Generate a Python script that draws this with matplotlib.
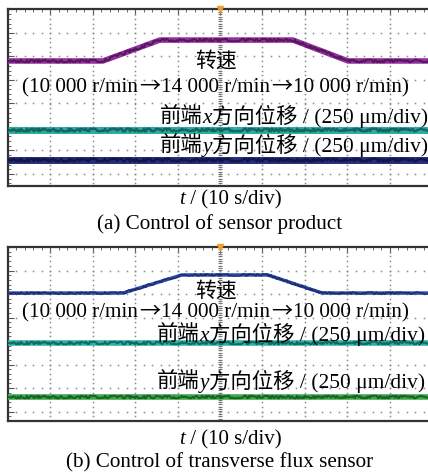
import numpy as np
import matplotlib.pyplot as plt
from matplotlib.ticker import MultipleLocator
from matplotlib.transforms import IdentityTransform

W, H = 428, 473
FONT = ['Liberation Serif', 'Noto Sans CJK SC']
CJK = ['Noto Sans CJK SC']

# traces, in scope divisions (x: 10 s/div, y: divisions from the bottom)
t_speed_a = [0, 2.24, 3.58, 6.72, 8.02, 10.2]
speed_a = [5.81, 5.81, 6.70, 6.70, 5.81, 5.81]
t_speed_b = [0, 2.71, 4.10, 6.13, 7.41, 10.2]
speed_b = [6.04, 6.04, 6.81, 6.81, 6.04, 6.04]

t_flat = [0, 10.2]
x_disp_a = [2.87, 2.87]
y_disp_a = [1.60, 1.60]
x_disp_b = [3.91, 3.91]
y_disp_b = [1.62, 1.62]

speed_label = '转速'
speed_steps = ['(10 000 r/min', '14 000 r/min', '10 000 r/min)']
time_label = ' / (10 s/div)'
captions = ['(a) Control of sensor product', '(b) Control of transverse flux sensor']

fig = plt.figure(figsize=(W / 100, H / 100), dpi=100)


def scope_axes(top_px, bot_px):
    ax = fig.add_axes([8 / W, 1 - bot_px / H, 424 / W, (bot_px - top_px) / H])
    ax.set_xlim(0, 10)
    ax.set_ylim(8 - (bot_px - top_px) / 23.5, 8)
    y0 = ax.get_ylim()[0]
    # dotted graticule
    for gx in range(1, 10):
        ys = np.arange(8, y0, -0.2)
        ax.plot(np.full_like(ys, gx), ys, ls='none', marker='s', ms=1.1,
                color='#8a8a8a', mew=0)
    for gy in range(1, 8):
        xs = np.arange(0, 10.01, 0.2)
        ax.plot(xs, np.full_like(xs, gy), ls='none', marker='s', ms=1.1,
                color='#8a8a8a', mew=0)
    ys = np.arange(8, y0, -0.1)
    ax.plot(np.full_like(ys, 5), ys, ls='none', marker='_', ms=3,
            color='#777777', mew=0.8)
    ax.plot([5], [8], marker='v', ms=4, color='#f0a030', clip_on=False, zorder=5)
    ax.xaxis.set_major_locator(MultipleLocator(1))
    ax.xaxis.set_minor_locator(MultipleLocator(0.2))
    ax.yaxis.set_major_locator(MultipleLocator(1))
    ax.yaxis.set_minor_locator(MultipleLocator(0.2))
    ax.tick_params(which='both', direction='in', top=True, bottom=False,
                   left=True, right=False, labelbottom=False, labelleft=False,
                   color='#555555')
    ax.tick_params(which='major', length=4, width=0.8)
    ax.tick_params(which='minor', length=2.5, width=0.6)
    for s in ax.spines.values():
        s.set_color('#333333')
        s.set_linewidth(1.6)
    ax.spines['right'].set_visible(False)
    return ax


def trace(ax, x, y, color, dark, lw):
    ax.plot(x, y, color=color, lw=lw, solid_capstyle='butt', zorder=3)
    ln, = ax.plot(x, y, color=dark, lw=lw * 0.35, alpha=0.7, zorder=4)
    ln.set_sketch_params(scale=1.3, length=3, randomness=30)


def put(parts, x, base_y, size=15, ha='center', gap=0):
    r = fig.canvas.get_renderer()
    objs = []
    widths = []
    for part in parts:
        s, st = part[0], part[1]
        fam = part[2] if len(part) > 2 else FONT
        o = fig.text(0, 0, s, fontsize=size, style=st, family=fam,
                     transform=IdentityTransform(), va='baseline', ha='left')
        objs.append(o)
        widths.append(o.get_window_extent(r).width + gap)
    x0 = x - sum(widths) / 2 if ha == 'center' else x
    for o, w in zip(objs, widths):
        o.set_position((x0, H - base_y))
        x0 += w


ax_a = scope_axes(9.5, 186)
trace(ax_a, t_speed_a, speed_a, '#952f9f', '#3a0f40', 4)
trace(ax_a, t_flat, x_disp_a, '#27ada3', '#0d4a45', 5)
trace(ax_a, t_flat, y_disp_a, '#272c7c', '#0c0d30', 5)

ax_b = scope_axes(247, 421)
trace(ax_b, t_speed_b, speed_b, '#2f4aaa', '#101a45', 2.5)
trace(ax_b, t_flat, x_disp_b, '#2bb3a8', '#0d4a45', 4)
trace(ax_b, t_flat, y_disp_b, '#3aa848', '#11421a', 4)

arrow = ('→', 'normal', CJK)
rng_parts = [(speed_steps[0], 'normal'), arrow, (speed_steps[1], 'normal'),
             arrow, (speed_steps[2], 'normal')]

for off, (sp_y, rng_y, xl_y, yl_y, t_y, c_y), cap in zip(
        [0, 1], [(67, 92, 123, 152, 204, 229), (297, 317, 341, 388, 444, 467)], captions):
    put([(speed_label, 'normal')], 216, sp_y)
    put(rng_parts, 216, rng_y, size=15.2, gap=1)
    put([('前端', 'normal'), ('x', 'italic'), ('方向位移 / (250 μm/div)', 'normal')],
        160 - 3 * off, xl_y, size=15.4, ha='left')
    put([('前端', 'normal'), ('y', 'italic'), ('方向位移 / (250 μm/div)', 'normal')],
        160 - 3 * off, yl_y, size=15.4, ha='left')
    put([('t', 'italic'), (time_label, 'normal')], 230, t_y)
    put([(cap, 'normal')], 220, c_y, size=15.2)

fig.savefig('out.png', dpi=100)
